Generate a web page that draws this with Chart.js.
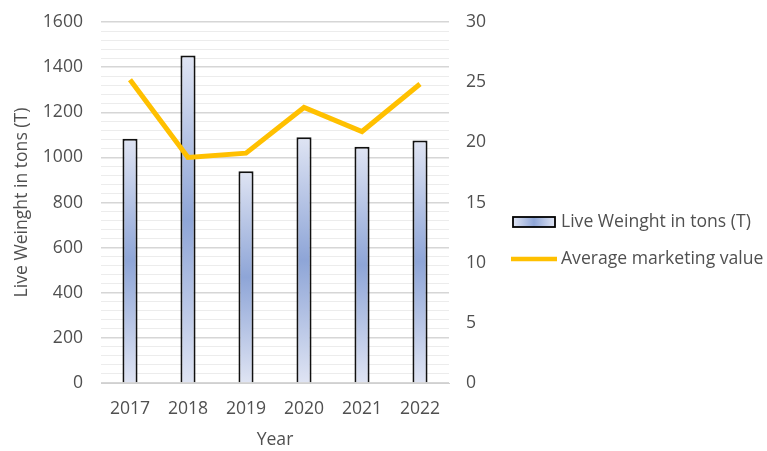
<!DOCTYPE html>
<html>
<head>
<meta charset="utf-8">
<script src="https://cdn.jsdelivr.net/npm/chart.js@4"></script>
<style>
  html, body { margin: 0; padding: 0; background: #ffffff; }
  canvas { display: block; }
</style>
</head>
<body>
<canvas id="c" width="767" height="451"></canvas>
<script>
const years = ['2017', '2018', '2019', '2020', '2021', '2022'];
const liveWeight = [1083, 1451, 938, 1089, 1047, 1075];
const avgMarketing = [25.2, 18.75, 19.1, 22.9, 20.9, 24.85];
const leftTicks = [0, 200, 400, 600, 800, 1000, 1200, 1400, 1600];
const rightTicks = [0, 5, 10, 15, 20, 25, 30];
const seriesNames = ['Live Weinght in tons (T)', 'Average marketing value'];

const FONT = "'Open Sans', 'Noto Sans', sans-serif";
const FS = 17.6;
const TXT = '#505050';
const LIGHT = '#dfe4f3';
const DARK = '#8ea5d7';
const GOLD = '#FFC000';

function barGradient(context) {
  const chart = context.chart;
  if (!chart.chartArea || context.type !== 'data') return '#b8c5e6';
  const ys = chart.scales.y;
  const top = ys.getPixelForValue(context.parsed.y);
  const base = ys.getPixelForValue(0);
  if (!isFinite(top) || !isFinite(base) || top === base) return '#b8c5e6';
  const g = chart.ctx.createLinearGradient(0, top, 0, base);
  g.addColorStop(0, LIGHT);
  g.addColorStop(0.5, DARK);
  g.addColorStop(1, LIGHT);
  return g;
}

const legendPlugin = {
  id: 'customLegend',
  afterDraw(chart) {
    const c = chart.ctx;
    c.save();
    const bx = 513, by = 217, bw = 42, bh = 10;
    const g = c.createLinearGradient(bx, 0, bx + bw, 0);
    g.addColorStop(0, LIGHT); g.addColorStop(0.5, DARK); g.addColorStop(1, LIGHT);
    c.fillStyle = g;
    c.fillRect(bx, by, bw, bh);
    c.strokeStyle = '#000000';
    c.lineWidth = 1.8;
    c.strokeRect(bx, by, bw, bh);
    c.font = FS + 'px ' + FONT;
    c.fillStyle = TXT;
    c.textBaseline = 'middle';
    c.textAlign = 'left';
    c.fillText(seriesNames[0], 561, 222);
    c.strokeStyle = GOLD;
    c.lineWidth = 4.5;
    c.beginPath();
    c.moveTo(511, 259);
    c.lineTo(557, 259);
    c.stroke();
    c.fillText(seriesNames[1], 561, 259);
    c.restore();
  }
};

function noVPad(s) { s.paddingTop = 0; s.paddingBottom = 0; }

new Chart(document.getElementById('c'), {
  data: {
    labels: years,
    datasets: [
      {
        type: 'line',
        label: seriesNames[1],
        data: avgMarketing,
        yAxisID: 'y1',
        borderColor: GOLD,
        borderWidth: 5,
        pointRadius: 0,
        tension: 0,
        fill: false,
        order: 0
      },
      {
        type: 'bar',
        label: seriesNames[0],
        data: liveWeight,
        yAxisID: 'y',
        backgroundColor: barGradient,
        borderColor: '#111111',
        borderWidth: 2,
        barPercentage: 0.26,
        categoryPercentage: 1,
        order: 1
      }
    ]
  },
  options: {
    responsive: false,
    animation: false,
    layout: { padding: { left: 0, top: 22, right: 268, bottom: 0 } },
    plugins: { legend: { display: false }, tooltip: { enabled: false } },
    scales: {
      x: {
        grid: { display: false, drawTicks: false },
        border: { display: true, color: '#d0d0d0', width: 1 },
        ticks: { color: TXT, font: { family: FONT, size: FS }, padding: 15, maxRotation: 0 },
        title: { display: true, text: 'Year', color: TXT, font: { family: FONT, size: FS }, padding: { top: 0, bottom: 0 } },
        afterFit(s) { s.height = 68; }
      },
      y: {
        position: 'left',
        min: 0,
        max: 1600,
        afterBuildTicks(s) {
          const t = [];
          for (let v = 0; v <= 1600; v += 40) t.push({ value: v });
          s.ticks = t;
        },
        ticks: {
          color: TXT,
          font: { family: FONT, size: FS },
          padding: 18,
          autoSkip: false,
          callback(v) { return leftTicks.includes(v) ? String(v) : ''; }
        },
        grid: {
          drawTicks: false,
          color(ctx) { return (ctx.tick && ctx.tick.value % 200 === 0) ? '#d6d6d6' : '#ececec'; },
          lineWidth(ctx) { return (ctx.tick && ctx.tick.value % 200 === 0) ? 1.5 : 1; }
        },
        border: { display: false },
        title: { display: true, text: seriesNames[0], color: TXT, font: { family: FONT, size: FS }, padding: { top: 11, bottom: 0 } },
        afterFit(s) { s.width = 101; noVPad(s); }
      },
      y1: {
        position: 'right',
        min: 0,
        max: 30,
        afterBuildTicks(s) { s.ticks = rightTicks.map(v => ({ value: v })); },
        ticks: { color: TXT, font: { family: FONT, size: FS }, padding: 17 },
        grid: { display: false, drawTicks: false },
        border: { display: false },
        afterFit(s) { s.width = 50; noVPad(s); }
      }
    }
  },
  plugins: [legendPlugin]
});
</script>
</body>
</html>
